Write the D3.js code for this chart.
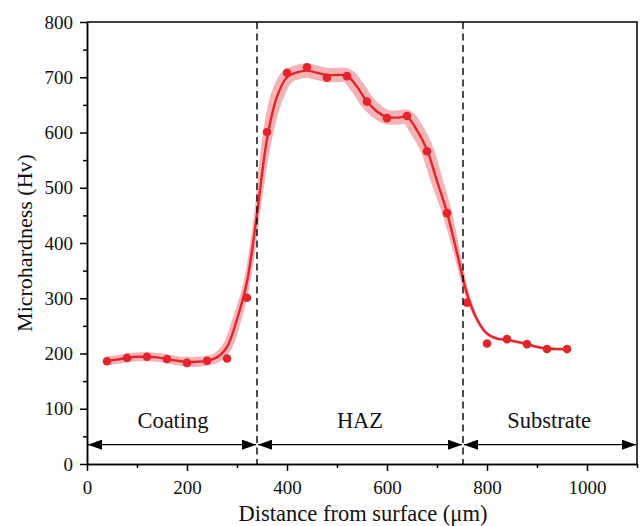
<!DOCTYPE html>
<html><head><meta charset="utf-8">
<script src="https://cdn.jsdelivr.net/npm/d3@7"></script>
<style>body{margin:0;background:#fff}svg{display:block}</style>
</head><body><svg id="c" width="641" height="526"></svg>
<script>
// ---- data ----
const pointX = [40,80,120,160,200,240,280,320,360,400,440,480,520,560,600,640,680,720,760,800,840,880,920,960];
const pointY = [186,192,194,190,183,187,191,301,601,708,718,699,702,656,626,630,566,454,292,218,226,217,208,208];
// smoothed fit curve
const fitX = [40,60,80,100,120,140,160,180,200,220,240,260,280,300,320,340,360,380,400,420,440,460,480,500,520,540,560,580,600,620,640,660,680,700,720,740,760,780,800,820,840,860,880,900,920,940,960];
const fitY = [187,189,192,194,194,193,190,187,185,185,187,193,212,262,330,452,588,665,700,709,712,708,704,704,703,683,656,638,628,627,628,604,569,512,455,382,308,262,236,227,225,221,217,212,209,208,208];
// confidence band half width (Hv)
const fitErr = [8,8,8,8,8,8,8,8,9,9,9,9,9,8,6,5,9,12,13,13,13,13,13,13,13,13,13,13,13,13,13,13,12,11,9,6,4,3,3,3,3,3,3,3,3,3,3];
const xTicks = [0,200,400,600,800,1000];
const xMinor = [100,300,500,700,900,1100];
const yTicks = [0,100,200,300,400,500,600,700,800];
const yMinor = [50,150,250,350,450,550,650,750];
const boundaries = [340,752];
const regions = [{name:"Coating",from:0,to:340,lx:172},{name:"HAZ",from:340,to:752,lx:546},{name:"Substrate",from:752,to:1100,lx:924}];
const arrowY = 35, labelY = 65;

// ---- drawing ----
const svg = d3.select("#c");
const x = d3.scaleLinear().domain([0,1100]).range([87,637]);
const y = d3.scaleLinear().domain([0,800]).range([464,22]);
const FONT = "'Liberation Serif','Times New Roman',serif";
const RED = "#e3242b";

// band: offset fit curve along normals
const fitPts = fitX.map((v,i)=>[x(v), y(fitY[i])]);
const lineGen = d3.line().curve(d3.curveCatmullRom.alpha(0.5));
const tmp = svg.append("path").attr("d", lineGen(fitPts)).attr("fill","none");
const node = tmp.node();
const L = node.getTotalLength();
const samples = [];
for (let s=0; s<=L; s+=1) { const p=node.getPointAtLength(s); samples.push([p.x,p.y]); }
const pe = node.getPointAtLength(L); samples.push([pe.x,pe.y]);
tmp.remove();
const errAt = d3.scaleLinear().domain(fitX).range(fitErr).clamp(true);
const pxPerHv = Math.abs(y(0)-y(1));
const upper=[], lower=[];
samples.forEach((p,i)=>{
  const a = samples[Math.max(0,i-2)], b = samples[Math.min(samples.length-1,i+2)];
  let dx=b[0]-a[0], dy=b[1]-a[1]; const n=Math.hypot(dx,dy)||1; dx/=n; dy/=n;
  const h = errAt(x.invert(p[0]))*pxPerHv;
  upper.push([p[0]+dy*h, p[1]-dx*h]);
  lower.push([p[0]-dy*h, p[1]+dx*h]);
});
svg.append("path")
  .attr("d", d3.line().curve(d3.curveLinear)(upper.concat(lower.reverse())) + "Z")
  .attr("fill", "#f6b3b6").attr("stroke","none");

// fit line
svg.append("path").attr("d", lineGen(fitPts)).attr("fill","none")
  .attr("stroke", RED).attr("stroke-width", 2.4);

// points
svg.append("g").selectAll("circle").data(pointX).join("circle")
  .attr("cx", d=>x(d)).attr("cy",(d,i)=>y(pointY[i])).attr("r",4.3).attr("fill",RED);

// boundaries
svg.append("g").selectAll("line").data(boundaries).join("line")
  .attr("x1",d=>x(d)).attr("x2",d=>x(d)).attr("y1",y(800)).attr("y2",y(0))
  .attr("stroke","#111").attr("stroke-width",1.5).attr("stroke-dasharray","7,4.5");

// arrows
const defs = svg.append("defs");
defs.append("marker").attr("id","ah").attr("viewBox","0 0 14 10").attr("refX",14).attr("refY",5)
  .attr("markerWidth",14).attr("markerHeight",10).attr("markerUnits","userSpaceOnUse").attr("orient","auto-start-reverse")
  .append("path").attr("d","M0,0L14,5L0,10Z").attr("fill","#000");
const ag = svg.append("g");
regions.forEach(r=>{
  ag.append("line").attr("x1",x(r.from)+1).attr("x2",x(r.to)-1).attr("y1",y(arrowY)).attr("y2",y(arrowY))
    .attr("stroke","#000").attr("stroke-width",1.4)
    .attr("marker-start","url(#ah)").attr("marker-end","url(#ah)");
  ag.append("text").attr("x",x(r.lx)).attr("y",y(labelY)).attr("text-anchor","middle")
    .attr("font-family",FONT).attr("font-size",22.5).attr("fill","#111").text(r.name);
});

// axes
function styleAxis(g){ g.selectAll("path,line").attr("stroke","#000").attr("stroke-width",1.5);
  g.selectAll("text").attr("font-family",FONT).attr("font-size",19).attr("fill","#111"); }
svg.append("g").attr("transform",`translate(0,${y(0)})`)
  .call(d3.axisBottom(x).tickValues(xTicks).tickSize(7).tickSizeOuter(0).tickPadding(10).tickFormat(d3.format("d"))).call(styleAxis);
svg.append("g").attr("transform",`translate(0,${y(0)})`)
  .call(d3.axisBottom(x).tickValues(xMinor).tickSize(4).tickSizeOuter(0).tickFormat("")).call(styleAxis);
svg.append("g").attr("transform",`translate(${x(0)},0)`)
  .call(d3.axisLeft(y).tickValues(yTicks).tickSize(7).tickSizeOuter(0).tickPadding(7).tickFormat(d3.format("d"))).call(styleAxis);
svg.append("g").attr("transform",`translate(${x(0)},0)`)
  .call(d3.axisLeft(y).tickValues(yMinor).tickSize(4).tickSizeOuter(0).tickFormat("")).call(styleAxis);
// frame top/right
svg.append("path").attr("d",`M${x(0)},${y(800)}H${x(1100)}V${y(0)}`).attr("fill","none")
  .attr("stroke","#000").attr("stroke-width",1.5);

// titles
svg.append("text").attr("x",363).attr("y",521).attr("text-anchor","middle")
  .attr("font-family",FONT).attr("font-size",22.5).attr("fill","#111").text("Distance from surface (μm)");
svg.append("text").attr("transform",`translate(32,${(y(0)+y(800))/2}) rotate(-90)`).attr("text-anchor","middle")
  .attr("font-family",FONT).attr("font-size",22).attr("fill","#111").text("Microhardness (Hv)");
</script></body></html>
